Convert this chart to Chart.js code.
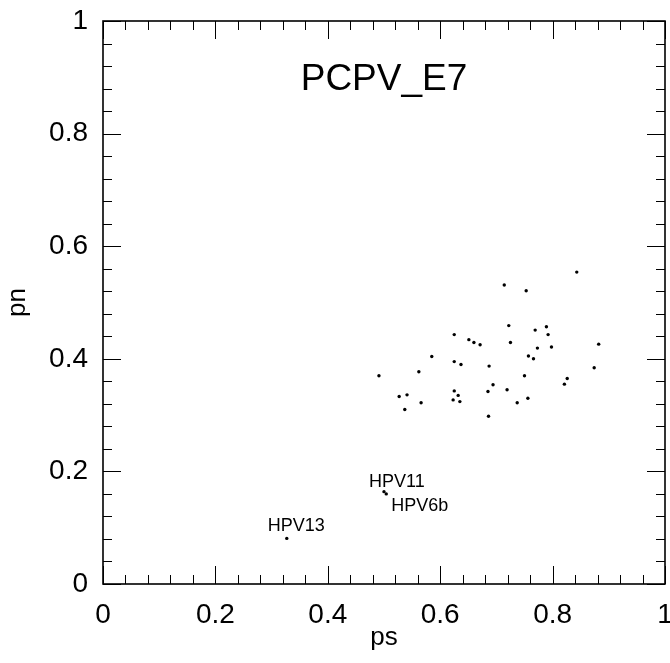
<!DOCTYPE html>
<html lang="en">
<head>
<meta charset="UTF-8">
<title>PCPV_E7</title>
<script src="https://cdn.jsdelivr.net/npm/chart.js"></script>
<style>
    html, body { margin: 0; padding: 0; background: #fff; }
    #wrap { width: 670px; height: 663px; }
</style>
</head>
<body>
<div id="wrap"><canvas id="plot" width="670" height="663"></canvas></div>
<script>
    // ps / pn pairs for the main cluster
    const ps = [0.843, 0.714, 0.753, 0.722, 0.769, 0.789, 0.792, 0.671, 0.725, 0.773,
                0.798, 0.757, 0.766, 0.687, 0.750, 0.826, 0.821, 0.694, 0.685, 0.719,
                0.756, 0.737, 0.686, 0.882, 0.874,
                0.625, 0.651, 0.660, 0.585, 0.625, 0.637, 0.491, 0.562, 0.527, 0.541,
                0.537, 0.566, 0.625, 0.632, 0.623, 0.635];
    const pn = [0.554, 0.531, 0.521, 0.459, 0.451, 0.457, 0.443, 0.425, 0.429, 0.419,
                0.421, 0.405, 0.400, 0.387, 0.370, 0.365, 0.355, 0.354, 0.342, 0.345,
                0.330, 0.322, 0.298, 0.426, 0.384,
                0.443, 0.434, 0.429, 0.404, 0.395, 0.390, 0.370, 0.377, 0.333, 0.336,
                0.310, 0.322, 0.343, 0.335, 0.327, 0.324];

    // named outliers
    const hpvNames = ['HPV11', 'HPV6b', 'HPV13'];
    const hpvPs = [0.500, 0.504, 0.327];
    const hpvPn = [0.164, 0.160, 0.081];

    const axisTicks = [0, 0.2, 0.4, 0.6, 0.8, 1];
    const chartTitle = 'PCPV_E7';

    const FONT = '"Liberation Sans", Arial, Helvetica, sans-serif';

    // frame with inward major/minor ticks, title, axis titles, point labels
    const framePlugin = {
        id: 'frame',
        afterDatasetsDraw(chart) {
            const ctx = chart.ctx;
            const a = chart.chartArea;
            const xs = chart.scales.x, ys = chart.scales.y;
            ctx.save();
            ctx.strokeStyle = '#000';
            ctx.lineWidth = 1;
            for (let i = 0; i <= 25; i++) {
                const v = i * 0.04;
                const len = i % 5 === 0 ? 18 : 9;
                const px = Math.round(xs.getPixelForValue(v)) + 0.5;
                const py = Math.round(ys.getPixelForValue(v)) + 0.5;
                ctx.beginPath();
                ctx.moveTo(px, a.bottom); ctx.lineTo(px, a.bottom - len);
                ctx.moveTo(px, a.top); ctx.lineTo(px, a.top + len);
                ctx.moveTo(a.left, py); ctx.lineTo(a.left + len, py);
                ctx.moveTo(a.right, py); ctx.lineTo(a.right - len, py);
                ctx.stroke();
            }
            ctx.lineWidth = 1.6;
            ctx.strokeRect(a.left, a.top, a.right - a.left, a.bottom - a.top);

            ctx.fillStyle = '#000';
            ctx.textBaseline = 'middle';
            ctx.textAlign = 'center';
            ctx.font = '37px ' + FONT;
            ctx.fillText(chartTitle, xs.getPixelForValue(0.5), ys.getPixelForValue(0.895));

            ctx.font = '26px ' + FONT;
            ctx.fillText('ps', xs.getPixelForValue(0.5), 638);
            ctx.save();
            ctx.translate(18, ys.getPixelForValue(0.5));
            ctx.rotate(-Math.PI / 2);
            ctx.fillText('pn', 0, 0);
            ctx.restore();

            // outlier names, placed relative to each point
            const offs = [[-15, -10], [5, 12], [-19, -12]];
            const meta = chart.getDatasetMeta(1);
            ctx.font = '18px ' + FONT;
            ctx.textAlign = 'left';
            meta.data.forEach((pt, i) => {
                ctx.fillText(hpvNames[i], pt.x + offs[i][0], pt.y + offs[i][1]);
            });
            ctx.restore();
        }
    };

    const pointStyle = {
        pointRadius: 1.7,
        pointBackgroundColor: '#000',
        pointBorderWidth: 0,
        pointHoverRadius: 1.7
    };

    const tickText = v => String(Math.round(v * 10) / 10);

    new Chart(document.getElementById('plot'), {
        type: 'scatter',
        data: {
            datasets: [
                Object.assign({ data: ps.map((x, i) => ({ x: x, y: pn[i] })) }, pointStyle),
                Object.assign({ data: hpvPs.map((x, i) => ({ x: x, y: hpvPn[i] })) }, pointStyle)
            ]
        },
        options: {
            responsive: false,
            animation: false,
            layout: { padding: { top: 21, right: 5, left: 0, bottom: 0 } },
            plugins: { legend: { display: false }, tooltip: { enabled: false } },
            scales: {
                x: {
                    type: 'linear', min: 0, max: 1,
                    afterBuildTicks: s => { s.ticks = axisTicks.map(v => ({ value: v })); },
                    grid: { display: false, drawTicks: false },
                    border: { display: false },
                    ticks: { color: '#000', font: { family: FONT, size: 28 }, padding: 14, maxRotation: 0, autoSkip: false, callback: tickText },
                    afterFit: s => { s.height = 79; s.paddingLeft = 0; s.paddingRight = 0; }
                },
                y: {
                    type: 'linear', min: 0, max: 1,
                    afterBuildTicks: s => { s.ticks = axisTicks.map(v => ({ value: v })); },
                    grid: { display: false, drawTicks: false },
                    border: { display: false },
                    ticks: { color: '#000', font: { family: FONT, size: 28 }, padding: 15, autoSkip: false, callback: tickText },
                    afterFit: s => { s.width = 103; s.paddingTop = 0; s.paddingBottom = 0; }
                }
            }
        },
        plugins: [framePlugin]
    });
</script>
</body>
</html>
